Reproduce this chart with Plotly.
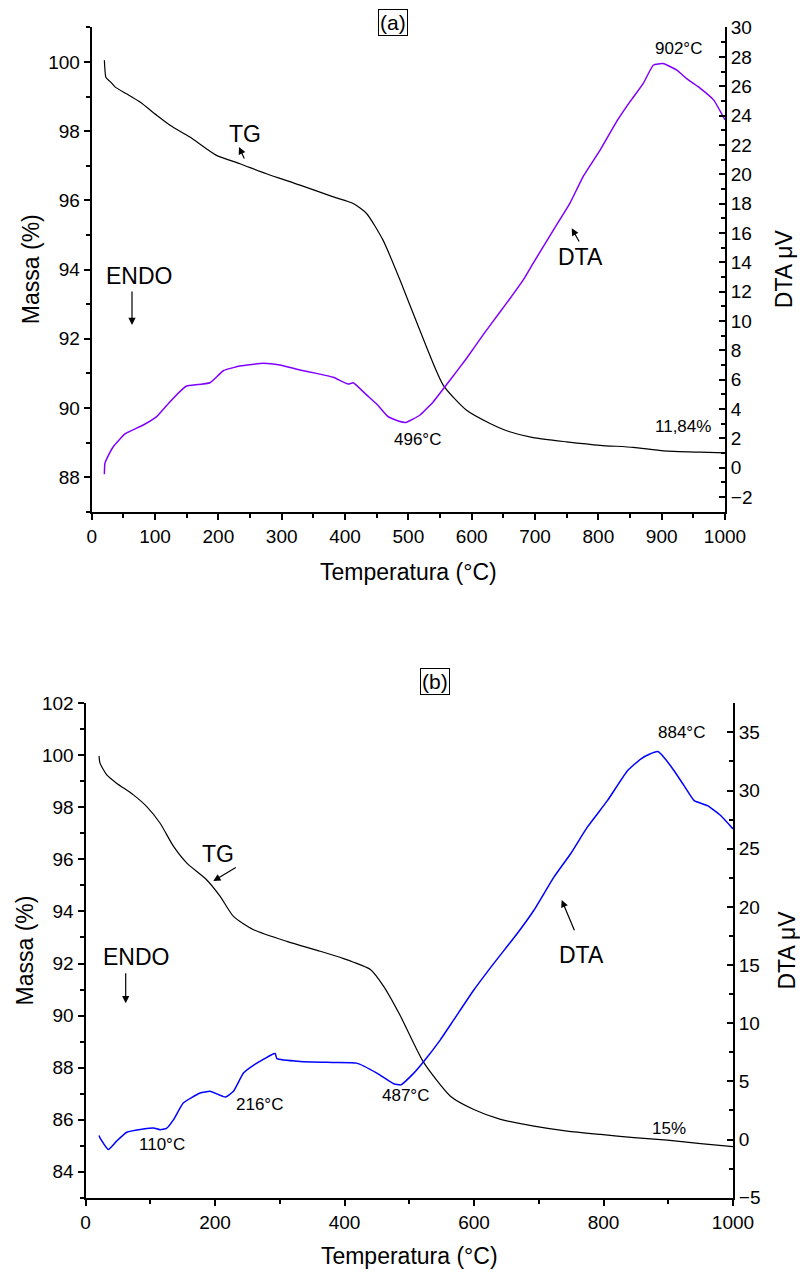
import plotly.graph_objects as go

W, H = 800, 1274

# ---- (a) thermogravimetric curve (black, left axis) ----
temp_tg_a = [20, 21, 22.5, 30, 36.8, 55, 76.3, 102.6, 123.7, 155, 197, 234, 276, 329,
             381.5, 413, 434, 460, 487, 518, 555, 592, 629, 660, 697, 750, 803, 855,
             903, 961, 1000]
massa_a = [100.05, 99.75, 99.55, 99.42, 99.28, 99.08, 98.84, 98.46, 98.17, 97.83, 97.30,
           97.06, 96.77, 96.44, 96.10, 95.91, 95.62, 94.85, 93.69, 92.25, 90.66, 89.93,
           89.55, 89.31, 89.14, 89.02, 88.92, 88.86, 88.76, 88.72, 88.70]

# ---- (a) DTA curve (violet, right axis) ----
temp_dta_a = [20, 20.8, 23.7, 34, 52.6, 81.5, 102.6, 123.7, 144.7, 150, 186.8, 207.8, 234,
              271, 297, 329, 355, 381.5, 405, 413, 434, 450, 468, 484, 496, 518.5, 539.5,
              566, 592, 618, 645, 660, 681.5, 697, 729, 755, 776, 803, 829, 850, 871, 887,
              902, 924, 940, 961, 982, 1000]
dta_a = [-0.45, 0.3, 0.6, 1.43, 2.3, 2.91, 3.48, 4.5, 5.41, 5.57, 5.79, 6.61, 6.93, 7.12,
         7.0, 6.66, 6.43, 6.16, 5.7, 5.79, 4.96, 4.34, 3.48, 3.18, 3.08, 3.59, 4.5, 5.98,
         7.46, 9.05, 10.63, 11.5, 12.8, 13.93, 16.2, 18.02, 19.84, 21.66, 23.6, 24.95, 26.2,
         27.45, 27.55, 27.1, 26.5, 25.86, 25.07, 23.7]

# ---- (b) thermogravimetric curve (black, left axis) ----
temp_tg_b = [20.9, 22.4, 32.8, 48, 74, 94.6, 115, 136, 156.5, 187, 208, 228.5, 259.5, 311,
             362.6, 398.6, 414, 440, 460.5, 486, 522, 563.6, 599.7, 641, 692.5, 744, 795.6,
             847, 898.7, 950, 1000]
massa_b = [99.98, 99.70, 99.25, 98.93, 98.48, 98.03, 97.40, 96.50, 95.86, 95.22, 94.58,
           93.81, 93.30, 92.85, 92.47, 92.19, 92.05, 91.77, 91.12, 90.0, 88.21, 86.9, 86.39,
           86.01, 85.75, 85.56, 85.43, 85.31, 85.21, 85.08, 84.96]

# ---- (b) DTA curve (blue, right axis) ----
temp_dta_b = [20.9, 22.4, 35.3, 48, 63.7, 89.4, 105, 115, 125, 136, 151, 177, 192.5, 216,
              228.5, 244, 264.7, 290.4, 293, 295.6, 331.7, 383, 419, 450, 476, 487, 507,
              522.4, 548, 568.7, 599.7, 630.6, 666.8, 692.5, 723.4, 749.2, 775, 806, 837,
              857.4, 870, 884, 893.5, 909, 924.4, 940, 960.6, 981, 1000]
dta_b = [0.34, 0.14, -0.86, -0.14, 0.63, 0.91, 1.0, 0.85, 0.95, 1.71, 3.14, 4.0, 4.14, 3.65,
         4.14, 5.71, 6.57, 7.37, 7.4, 6.95, 6.71, 6.63, 6.57, 5.71, 4.8, 4.7, 5.71, 6.71,
         8.57, 10.28, 12.85, 15.14, 17.71, 19.71, 22.56, 24.57, 26.85, 29.13, 31.7, 32.71,
         33.1, 33.35, 32.85, 31.7, 30.42, 29.13, 28.7, 27.85, 26.7]

FONT = "Liberation Sans, Arial, sans-serif"


def pp(x, y):
    """pixel position -> paper coordinates"""
    return x / W, 1 - y / H


fig = go.Figure()
fig.add_trace(go.Scatter(x=temp_tg_a, y=massa_a, mode="lines", name="TG (a)",
                         line=dict(color="black", width=1.2, shape="spline", smoothing=0.6),
                         xaxis="x", yaxis="y"))
fig.add_trace(go.Scatter(x=temp_dta_a, y=dta_a, mode="lines", name="DTA (a)",
                         line=dict(color="#8000FF", width=1.5, shape="spline", smoothing=0.4),
                         xaxis="x", yaxis="y2"))
fig.add_trace(go.Scatter(x=temp_tg_b, y=massa_b, mode="lines", name="TG (b)",
                         line=dict(color="black", width=1.2, shape="spline", smoothing=0.6),
                         xaxis="x2", yaxis="y3"))
fig.add_trace(go.Scatter(x=temp_dta_b, y=dta_b, mode="lines", name="DTA (b)",
                         line=dict(color="#0000FF", width=1.5, shape="spline", smoothing=0.4),
                         xaxis="x2", yaxis="y4"))

common = dict(showline=True, linecolor="black", linewidth=2, ticks="outside", ticklen=6,
              tickwidth=2, tickcolor="black", showgrid=False, zeroline=False,
              automargin=False, tickfont=dict(family=FONT, size=19, color="black"))


def minor(step, ticks="outside"):
    return dict(dtick=step, ticks=ticks, ticklen=4, tickwidth=1.5, tickcolor="black",
                showgrid=False)


title_font = dict(family=FONT, size=23, color="black")

xa_dom = [91.7 / W, 725 / W]
ya_dom = [1 - 511.7 / H, 1 - 26.7 / H]
xb_dom = [85.5 / W, 733 / W]
yb_dom = [1 - 1197.7 / H, 1 - 703.3 / H]

fig.update_layout(
    width=W, height=H,
    margin=dict(l=0, r=0, t=0, b=0),
    paper_bgcolor="white", plot_bgcolor="white",
    showlegend=False,
    font=dict(family=FONT, color="black"),
    xaxis=dict(common, domain=xa_dom, range=[0, 1000], dtick=100, minor=minor(50),
               anchor="y", title=dict(text="Temperatura (°C)", font=title_font, standoff=18)),
    yaxis=dict(common, domain=ya_dom, range=[87, 101.02], dtick=2, minor=minor(1),
               anchor="x", title=dict(text="Massa (%)", font=title_font, standoff=2)),
    yaxis2=dict(common, domain=ya_dom, range=[-3, 30.06], dtick=2, minor=minor(1, "inside"),
                ticks="inside", overlaying="y", side="right", anchor="x",
                title=dict(text="DTA μV", font=title_font, standoff=24)),
    xaxis2=dict(common, domain=xb_dom, range=[0, 1000], dtick=200, minor=minor(100),
                anchor="y3", title=dict(text="Temperatura (°C)", font=title_font, standoff=16)),
    yaxis3=dict(common, domain=yb_dom, range=[83, 102], dtick=2, minor=minor(1),
                anchor="x2", title=dict(text="Massa (%)", font=title_font, standoff=2)),
    yaxis4=dict(common, domain=yb_dom, range=[-5, 37.5], dtick=5, minor=minor(2.5, "inside"),
                ticks="inside", overlaying="y3", side="right", anchor="x2",
                title=dict(text="DTA μV", font=title_font, standoff=22)),
)

annotations = []


def label(text, x, y, size=17, **kw):
    px_, py_ = pp(x, y)
    annotations.append(dict(text=text, x=px_, y=py_, xref="paper", yref="paper",
                            showarrow=False, xanchor="center", yanchor="middle",
                            font=dict(family=FONT, size=size, color="black"), **kw))


def arrow(hx, hy, tx, ty):
    px_, py_ = pp(hx, hy)
    annotations.append(dict(text="", x=px_, y=py_, xref="paper", yref="paper",
                            showarrow=True, ax=tx - hx, ay=ty - hy, arrowhead=2,
                            arrowsize=1.2, arrowwidth=1.2, arrowcolor="black", standoff=0))


# panel (a)
label("(a)", 393, 22, size=21, bordercolor="black", borderwidth=1, borderpad=1)
label("TG", 245, 134, size=23)
arrow(239, 147, 245, 160)
label("ENDO", 139, 276, size=23)
arrow(132, 325, 132, 290)
label("DTA", 580, 257, size=23)
arrow(571.7, 228.3, 580, 243)
label("902°C", 678, 48)
label("496°C", 417, 439)
label("11,84%", 683, 427)

# panel (b)
label("(b)", 435, 681, size=21, bordercolor="black", borderwidth=1, borderpad=1)
label("TG", 218, 854, size=23)
arrow(213.3, 881, 237.3, 866.7)
label("ENDO", 136, 957, size=23)
arrow(125.7, 1003.3, 125.7, 971.7)
label("DTA", 581, 955, size=23)
arrow(561.7, 900, 575, 931.7)
label("884°C", 681, 732)
label("110°C", 162, 1144)
label("216°C", 259, 1104)
label("487°C", 405, 1095)
label("15%", 669, 1128)

fig.update_layout(annotations=annotations)

fig.write_html("out.html")
